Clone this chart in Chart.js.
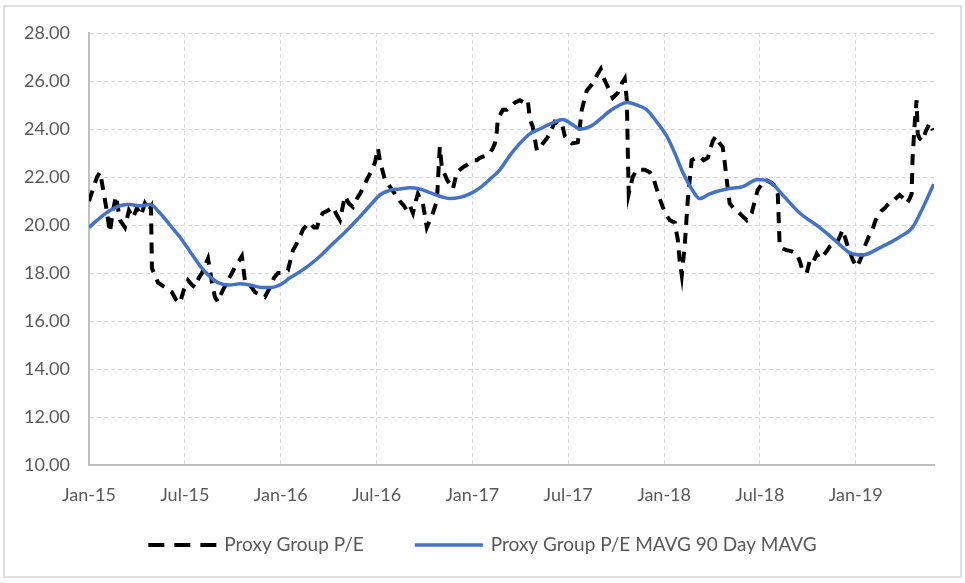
<!DOCTYPE html>
<html>
<head>
<meta charset="utf-8">
<script src="https://cdn.jsdelivr.net/npm/chart.js@4.4.1/dist/chart.umd.min.js"></script>
<style>
  html, body { margin: 0; padding: 0; background: #fff; }
  #wrap { position: relative; width: 965px; height: 583px; }
  #frame {
    position: absolute; left: 3px; top: 5px; width: 955px; height: 569px;
    border: 2px solid #dedede; pointer-events: none;
  }
</style>
</head>
<body>
<div id="wrap">
  <canvas id="pe" width="965" height="583"></canvas>
  <div id="frame"></div>
</div>
<script>
// months counted from Jan-15
const tickMonths = [0, 6, 12, 18, 24, 30, 36, 42, 48];
const tickLabels = ['Jan-15', 'Jul-15', 'Jan-16', 'Jul-16', 'Jan-17', 'Jul-17', 'Jan-18', 'Jul-18', 'Jan-19'];

// Proxy Group P/E
const peMonths = [
  0, 0.25, 0.5, 0.69, 0.88, 1.06, 1.31, 1.5, 1.69, 1.94, 2.25, 2.5, 2.75, 3, 3.25, 3.5, 3.75, 3.88, 3.94,
  4.13, 4.32, 4.76, 5.19, 5.44, 5.69, 5.94, 6.2, 6.45, 6.63, 6.88, 7.07, 7.26, 7.45, 7.7, 7.88, 8.07,
  8.32, 8.7, 8.95, 9.14, 9.39, 9.57, 9.76, 10.08, 10.39, 10.7, 11.01, 11.33, 11.58, 11.83, 12.14, 12.45,
  12.77, 13.02, 13.2, 13.39, 13.64, 13.83, 14.08, 14.27, 14.46, 14.64, 14.96, 15.27, 15.52, 15.71, 16.02,
  16.27, 16.52, 16.77, 16.96, 17.21, 17.4, 17.65, 17.9, 18.09, 18.21, 18.4, 18.52, 18.84, 19.15, 19.46,
  19.71, 19.9, 20.09, 20.28, 20.46, 20.59, 20.78, 20.9, 21.15, 21.34, 21.53, 21.78, 21.9, 21.96, 22.09,
  22.28, 22.4, 22.59, 22.78, 23.03, 23.22, 23.4, 23.65, 23.84, 24.09, 24.28, 24.47, 24.66, 24.91, 25.09,
  25.28, 25.41, 25.53, 25.59, 25.91, 26.16, 26.35, 26.66, 26.97, 27.22, 27.47, 27.6, 27.78, 28.04, 28.22,
  28.41, 28.66, 28.85, 29.16, 29.41, 29.6, 29.79, 30.04, 30.23, 30.6, 30.73, 30.85, 31.16, 31.54, 31.85,
  32.04, 32.17, 32.48, 32.79, 33.1, 33.35, 33.54, 33.67, 33.73, 33.79, 34.04, 34.29, 34.48, 34.79, 35.11,
  35.36, 35.54, 35.73, 35.92, 36.17, 36.36, 36.67, 36.86, 36.98, 37.11, 37.3, 37.48, 37.61, 37.73, 37.98,
  38.24, 38.49, 38.74, 39.05, 39.24, 39.49, 39.67, 39.8, 39.92, 40.11, 40.36, 40.55, 40.86, 41.18, 41.49,
  41.68, 41.86, 42.12, 42.3, 42.74, 42.99, 43.12, 43.18, 43.24, 43.49, 43.68, 43.99, 44.31, 44.49, 44.68,
  44.93, 45.12, 45.31, 45.56, 45.74, 45.93, 46.18, 46.37, 46.56, 46.81, 47, 47.18, 47.37, 47.5, 47.68,
  47.81, 48.06, 48.25, 48.44, 48.62, 48.81, 49, 49.19, 49.37, 49.62, 49.81, 50.06, 50.25, 50.5, 50.75,
  51, 51.19, 51.38, 51.5, 51.56, 51.69, 51.81, 51.88, 52, 52.19, 52.38, 52.63, 52.82
];
const peValues = [
  21.0, 21.5, 22.0, 22.2, 21.5, 20.8, 19.7, 20.6, 21.2, 20.2, 19.9, 20.6, 20.3, 20.7, 20.4, 20.9, 20.6, 20.75, 18.2,
  17.9, 17.6, 17.4, 17.2, 16.9, 16.75, 17.3, 17.7, 17.5, 17.4, 17.8, 18.0, 18.3, 18.6, 17.6, 17.0, 16.8,
  17.2, 17.7, 18.0, 18.25, 18.5, 18.7, 17.7, 17.5, 17.2, 17.1, 17.0, 17.4, 17.8, 18.0, 18.0, 18.1,
  18.95, 19.25, 19.5, 19.8, 20.0, 20.1, 19.9, 19.9, 20.3, 20.5, 20.6, 20.75, 20.4, 20.2, 21.2,
  20.9, 20.75, 21.1, 21.3, 21.6, 21.9, 22.2, 22.6, 23.2, 22.7, 22.2, 21.9, 21.6, 21.3, 21.0,
  20.8, 20.6, 20.8, 20.5, 21.0, 21.3, 21.0, 20.9, 19.9, 20.2, 20.5, 21.0, 22.5, 23.25, 22.4,
  22.1, 21.9, 21.7, 21.5, 22.2, 22.3, 22.4, 22.5, 22.6, 22.7, 22.7, 22.8, 22.85, 22.9, 23.0,
  23.2, 23.4, 23.9, 24.4, 24.8, 24.8, 24.9, 25.1, 25.2, 25.1, 25.2, 24.4, 24.1, 23.1, 23.2,
  23.4, 23.6, 23.8, 24.3, 24.2, 24.25, 23.7, 23.5, 23.4, 23.45, 24.1, 24.8, 25.6, 25.9, 26.3,
  26.5, 26.2, 25.75, 25.3, 25.5, 25.9, 26.1, 25.2, 23.1, 21.3, 22.0, 22.3, 22.3, 22.3, 22.2,
  21.9, 21.5, 21.1, 20.75, 20.4, 20.2, 20.1, 19.4, 18.5, 17.9, 19.2, 21.0, 21.9, 22.7, 22.8,
  22.85, 22.7, 22.8, 23.5, 23.7, 23.4, 23.25, 22.6, 21.9, 20.9, 20.7, 20.6, 20.4, 20.2, 20.5,
  21.0, 21.45, 21.7, 21.9, 21.75, 21.6, 21.3, 20.2, 19.1, 19.0, 18.95, 18.9, 18.8, 18.5, 18.1,
  18.0, 18.5, 18.4, 18.8, 18.6, 18.7, 18.9, 19.1, 19.2, 19.25, 19.5, 19.8, 19.4, 19.1, 18.8,
  18.55, 18.25, 18.5, 18.8, 19.2, 19.5, 19.7, 20.1, 20.4, 20.6, 20.7, 20.9, 20.95, 21.1, 21.25,
  21.1, 20.9, 21.1, 21.3, 22.8, 24.2, 25.2, 23.8, 23.6, 23.5, 23.9, 24.25, 23.95
];

// Proxy Group P/E MAVG 90 Day MAVG
const mavgMonths = [
  0, 0.69, 1.31, 1.94, 2.57, 3.19, 3.82, 4.44, 5.07, 5.69, 6.32, 6.95, 7.57, 8.07, 8.82, 9.45, 10.08,
  10.83, 11.45, 12.08, 12.58, 13.2, 13.83, 14.46, 15.08, 15.71, 16.33, 16.96, 17.58, 18.21, 18.84, 19.46,
  20.09, 20.71, 21.34, 21.96, 22.59, 23.22, 23.84, 24.47, 25.09, 25.72, 26.35, 26.97, 27.6, 28.22, 28.85,
  29.66, 30.23, 30.73, 31.35, 31.98, 32.6, 33.23, 33.67, 34.29, 34.92, 35.54, 36.17, 36.67, 37.17, 37.73,
  38.24, 38.86, 39.92, 40.93, 41.86, 42.62, 43.43, 44.49, 45.74, 46.81, 47.62, 48.44, 49.5, 50.75, 51.56,
  52.19, 52.88
];
const mavgValues = [
  19.9, 20.3, 20.6, 20.8, 20.85, 20.8, 20.85, 20.5, 20.0, 19.5, 18.9, 18.3, 17.85, 17.6, 17.5, 17.55, 17.5,
  17.4, 17.4, 17.55, 17.8, 18.05, 18.35, 18.7, 19.1, 19.5, 19.9, 20.35, 20.8, 21.25, 21.45, 21.5,
  21.55, 21.5, 21.35, 21.2, 21.1, 21.15, 21.3, 21.55, 21.9, 22.3, 22.9, 23.4, 23.8, 24.0, 24.2,
  24.4, 24.2, 24.0, 24.1, 24.4, 24.75, 25.0, 25.1, 25.0, 24.8, 24.3, 23.7, 23.0, 22.2, 21.5,
  21.1, 21.3, 21.5, 21.6, 21.9, 21.8, 21.25, 20.5, 19.9, 19.3, 18.85, 18.75, 19.05, 19.5, 19.9,
  20.7, 21.7
];

const toPoints = (xs, ys) => xs.map((x, i) => ({ x: x, y: ys[i] }));

const labelFont = { family: 'Lato', size: 18 };
const gridColor = '#d9d9d9';

// legend drawn under the x axis: line sample + label for each series
const bottomLegend = {
  id: 'bottomLegend',
  afterDraw(chart) {
    const ctx = chart.ctx;
    const sampleW = 68, textGap = 8, itemGap = 51;
    const y = chart.chartArea.bottom + 80;
    ctx.save();
    ctx.font = '19px Lato';
    const items = chart.data.datasets.map(ds => ({ ds, w: ctx.measureText(ds.label).width }));
    const total = items.reduce((s, it) => s + sampleW + textGap + it.w, 0) + itemGap * (items.length - 1);
    let x = (chart.width - total) / 2;
    items.forEach(({ ds, w }) => {
      ctx.beginPath();
      ctx.setLineDash(ds.borderDash ? [16, 10] : []);
      ctx.lineWidth = ds.borderWidth;
      ctx.strokeStyle = ds.borderColor;
      ctx.moveTo(x, y);
      ctx.lineTo(x + sampleW, y);
      ctx.stroke();
      ctx.setLineDash([]);
      ctx.fillStyle = '#595959';
      ctx.textBaseline = 'middle';
      ctx.textAlign = 'left';
      ctx.fillText(ds.label, x + sampleW + textGap, y);
      x += sampleW + textGap + w + itemGap;
    });
    ctx.restore();
  }
};

new Chart(document.getElementById('pe'), {
  type: 'line',
  data: {
    datasets: [
      {
        label: 'Proxy Group P/E',
        data: toPoints(peMonths, peValues),
        borderColor: '#000000',
        backgroundColor: '#000000',
        borderWidth: 4,
        borderDash: [11, 8],
        pointRadius: 0,
        tension: 0,
        order: 1
      },
      {
        label: 'Proxy Group P/E MAVG 90 Day MAVG',
        data: toPoints(mavgMonths, mavgValues),
        borderColor: '#4472C4',
        backgroundColor: '#4472C4',
        borderWidth: 3.5,
        pointRadius: 0,
        cubicInterpolationMode: 'monotone',
        order: 0
      }
    ]
  },
  options: {
    responsive: false,
    animation: false,
    layout: { padding: { left: 0, top: 33, right: 31, bottom: 75 } },
    scales: {
      x: {
        type: 'linear',
        min: 0,
        max: 52.9,
        afterBuildTicks: (scale) => { scale.ticks = tickMonths.map(v => ({ value: v })); },
        afterFit: (scale) => { scale.height = 43; },
        ticks: {
          autoSkip: false,
          maxRotation: 0,
          padding: 19,
          color: '#595959',
          font: labelFont,
          callback: (v, i) => tickLabels[i]
        },
        grid: { color: gridColor, lineWidth: 1, drawTicks: false },
        border: { display: true, color: '#bfbfbf', width: 2, dash: [4, 3] }
      },
      y: {
        min: 10,
        max: 28,
        afterFit: (scale) => { scale.width = 89; },
        ticks: {
          stepSize: 2,
          padding: 19,
          color: '#595959',
          font: labelFont,
          callback: (v) => v.toFixed(2)
        },
        grid: { color: gridColor, lineWidth: 1, drawTicks: false },
        border: { display: true, color: '#bfbfbf', width: 2, dash: [4, 3] }
      }
    },
    plugins: {
      tooltip: { enabled: false },
      legend: { display: false }
    }
  },
  plugins: [bottomLegend]
});
</script>
</body>
</html>
